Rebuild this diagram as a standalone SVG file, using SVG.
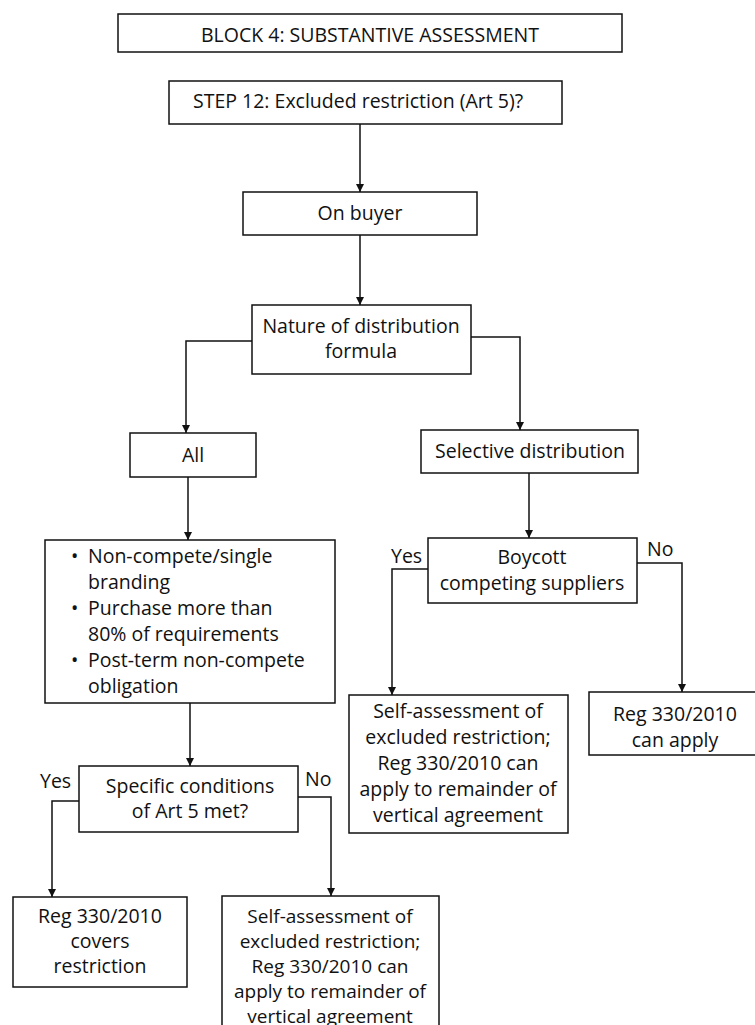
<svg xmlns="http://www.w3.org/2000/svg" width="755" height="1025" viewBox="0 0 755 1025">
  <defs>
    <marker id="arrow" viewBox="0 0 10 10" refX="10" refY="5" markerWidth="8" markerHeight="8" markerUnits="userSpaceOnUse" orient="auto">
      <path d="M0,0 L10,5 L0,10 z" fill="#111111"/>
    </marker>
    <style>
      .box { fill: #ffffff; stroke: #111111; stroke-width: 1.5; }
      .edge { fill: none; stroke: #111111; stroke-width: 1.5; }
      .t { font-family: "Open Sans", "Noto Sans", sans-serif; font-size: 19.5px; fill: #111111; }
      .s { font-size: 19px; }
      .c { text-anchor: middle; }
    </style>
  </defs>
  <rect width="755" height="1025" fill="#ffffff"/>

  <!-- connectors and branch labels -->
  <g id="connectors">
    <line class="edge" x1="360" y1="124" x2="360" y2="192" marker-end="url(#arrow)"/>
    <line class="edge" x1="360" y1="235" x2="360" y2="305" marker-end="url(#arrow)"/>
    <polyline class="edge" points="252,341 186,341 186,433" marker-end="url(#arrow)"/>
    <polyline class="edge" points="471,337 520,337 520,430" marker-end="url(#arrow)"/>
    <line class="edge" x1="188" y1="477" x2="188" y2="540" marker-end="url(#arrow)"/>
    <line class="edge" x1="529" y1="473" x2="529" y2="538" marker-end="url(#arrow)"/>
    <polyline class="edge" points="428,569 392,569 392,695" marker-end="url(#arrow)"/>
    <polyline class="edge" points="637,563 682,563 682,692" marker-end="url(#arrow)"/>
    <line class="edge" x1="190" y1="703" x2="190" y2="766" marker-end="url(#arrow)"/>
    <polyline class="edge" points="79,801 52,801 52,897" marker-end="url(#arrow)"/>
    <polyline class="edge" points="298,797 331,797 331,896" marker-end="url(#arrow)"/>
    <text class="t" x="391" y="563">Yes</text>
    <text class="t" x="647" y="556">No</text>
    <text class="t" x="40" y="788">Yes</text>
    <text class="t" x="305" y="786">No</text>
  </g>

  <g id="block4">
    <rect class="box" x="118" y="14" width="504" height="38"/>
    <text class="t c" x="370" y="42">BLOCK 4: SUBSTANTIVE ASSESSMENT</text>
  </g>

  <g id="step12">
    <rect class="box" x="169" y="81" width="393" height="43"/>
    <text class="t" x="193" y="108">STEP 12: Excluded restriction (Art 5)?</text>
  </g>

  <g id="on-buyer">
    <rect class="box" x="243" y="192" width="234" height="43"/>
    <text class="t c" x="360" y="220">On buyer</text>
  </g>

  <g id="nature">
    <rect class="box" x="252" y="305" width="219" height="69"/>
    <text class="t c" x="361" y="333">Nature of distribution</text>
    <text class="t c" x="361" y="358">formula</text>
  </g>

  <g id="all">
    <rect class="box" x="130" y="433" width="126" height="44"/>
    <text class="t c" x="193" y="462">All</text>
  </g>

  <g id="selective">
    <rect class="box" x="421" y="430" width="217" height="43"/>
    <text class="t c" x="530" y="458">Selective distribution</text>
  </g>

  <g id="excluded-list">
    <rect class="box" x="45" y="540" width="290" height="163"/>
    <text class="t">
      <tspan x="71" y="563">•</tspan><tspan x="88" y="563">Non-compete/single</tspan>
      <tspan x="88" y="589">branding</tspan>
      <tspan x="71" y="615">•</tspan><tspan x="88" y="615">Purchase more than</tspan>
      <tspan x="88" y="641">80% of requirements</tspan>
      <tspan x="71" y="667">•</tspan><tspan x="88" y="667">Post-term non-compete</tspan>
      <tspan x="88" y="693">obligation</tspan>
    </text>
  </g>

  <g id="boycott">
    <rect class="box" x="428" y="538" width="209" height="65"/>
    <text class="t c" x="532" y="564">Boycott</text>
    <text class="t c" x="532" y="590">competing suppliers</text>
  </g>

  <g id="self-assessment-selective">
    <rect class="box" x="349" y="695" width="219" height="138"/>
    <text class="t c" x="458" y="718">Self-assessment of</text>
    <text class="t c" x="458" y="744">excluded restriction;</text>
    <text class="t c" x="458" y="770">Reg 330/2010 can</text>
    <text class="t c" x="458" y="796">apply to remainder of</text>
    <text class="t c" x="458" y="822">vertical agreement</text>
  </g>

  <g id="can-apply">
    <rect class="box" x="589" y="692" width="170" height="63"/>
    <text class="t c" x="675" y="721">Reg 330/2010</text>
    <text class="t c" x="675" y="747">can apply</text>
  </g>

  <g id="specific">
    <rect class="box" x="79" y="766" width="219" height="66"/>
    <text class="t c" x="190" y="793">Specific conditions</text>
    <text class="t c" x="190" y="818">of Art 5 met?</text>
  </g>

  <g id="covers">
    <rect class="box" x="13" y="897" width="174" height="90"/>
    <text class="t c" x="100" y="923">Reg 330/2010</text>
    <text class="t c" x="100" y="948">covers</text>
    <text class="t c" x="100" y="973">restriction</text>
  </g>

  <!-- this box runs past the lower edge of the page -->
  <g id="self-assessment-art5">
    <rect class="box" x="222" y="896" width="217" height="140"/>
    <text class="t s c" x="330" y="923">Self-assessment of</text>
    <text class="t s c" x="330" y="948">excluded restriction;</text>
    <text class="t s c" x="330" y="973">Reg 330/2010 can</text>
    <text class="t s c" x="330" y="998">apply to remainder of</text>
    <text class="t s c" x="330" y="1023">vertical agreement</text>
  </g>
</svg>
